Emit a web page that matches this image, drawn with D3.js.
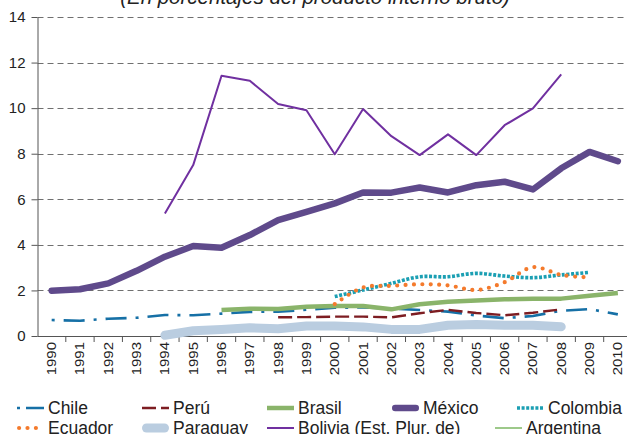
<!DOCTYPE html>
<html><head><meta charset="utf-8">
<script src="https://cdn.jsdelivr.net/npm/d3@7"></script>
<style>
html,body{margin:0;padding:0;background:#fff;}
svg{display:block;font-family:"Liberation Sans",Arial,sans-serif;}
</style></head><body>
<svg id="chart" width="627" height="434"></svg>
<script>
// Categories and tick labels
const years = ["1990","1991","1992","1993","1994","1995","1996","1997","1998","1999","2000",
               "2001","2002","2003","2004","2005","2006","2007","2008","2009","2010"];
const yTicks = [0, 2, 4, 6, 8, 10, 12, 14];

// Series values (% of GDP), one value per year, null where no data
const chile     = [0.70,0.67,0.76,0.80,0.92,0.91,0.98,1.06,1.07,1.15,1.24,1.25,1.21,1.14,1.07,0.90,0.78,0.88,1.11,1.18,0.95];
const peru      = [null,null,null,null,null,null,null,null,0.82,0.83,0.85,0.85,0.82,1.00,1.15,1.01,0.91,1.02,1.17,null,null];
const brasil    = [null,null,null,null,null,null,1.14,1.20,1.19,1.28,1.32,1.32,1.17,1.39,1.50,1.56,1.61,1.64,1.64,1.77,1.89];
const mexico    = [1.99,2.05,2.31,2.86,3.48,3.95,3.87,4.43,5.09,5.45,5.82,6.30,6.29,6.52,6.30,6.62,6.77,6.43,7.36,8.08,7.67];
const colombia  = [null,null,null,null,null,null,null,null,null,null,1.73,2.02,2.31,2.60,2.60,2.75,2.63,2.56,2.68,2.79,null];
const ecuador   = [null,null,null,null,null,null,null,null,null,null,1.40,2.13,2.20,2.27,2.22,2.02,2.36,3.02,2.68,2.57,null];
const paraguay  = [null,null,null,null,0.03,0.23,0.29,0.36,0.32,0.44,0.44,0.40,0.29,0.29,0.47,0.51,0.47,0.47,0.41,null,null];
const bolivia   = [null,null,null,null,5.38,7.50,11.42,11.20,10.18,9.91,7.98,9.96,8.77,7.94,8.85,7.94,9.25,9.99,11.48,null,null];
const argentina = [null,null,null,null,null,null,null,null,null,null,null,null,null,null,null,null,null,null,null,null,null];

const seriesNames = ["Chile","Perú","Brasil","México","Colombia","Ecuador","Paraguay","Bolivia (Est. Plur. de)","Argentina"];
const seriesValues = [chile, peru, brasil, mexico, colombia, ecuador, paraguay, bolivia, argentina];

// Line styles per series
const styles = {
  "Chile":    {color:"#1670a6", width:2.6, dash:"3,9,21,9", cap:"butt"},
  "Perú":     {color:"#7d1d22", width:2.4, dash:"14,5", cap:"butt"},
  "Brasil":   {color:"#8ab46a", width:4.5, dash:null, cap:"butt"},
  "México":   {color:"#5f4a8b", width:6.5, dash:null, cap:"round"},
  "Colombia": {color:"#1b9fb3", width:3.6, dash:"3,1.6", cap:"butt", smooth:true},
  "Ecuador":  {color:"#f47a2c", width:4.2, dash:"0,8.4", cap:"round", smooth:true},
  "Paraguay": {color:"#bacde0", width:9, dash:null, cap:"round"},
  "Bolivia (Est. Plur. de)": {color:"#7030a0", width:2, dash:null, cap:"butt"},
  "Argentina":{color:"#9dc98a", width:2, dash:null, cap:"butt"}
};

const svg = d3.select("#chart");
const x = d3.scaleBand().domain(years).range([37.5, 632]).padding(0);
const y = d3.scaleLinear().domain([0, 14]).range([336, 17]);
const bw = x.bandwidth();
const cx = yr => x(yr) + bw / 2;

// Dashed horizontal gridlines
svg.append("g").selectAll("line").data(yTicks.filter(v => v > 0)).join("line")
  .attr("x1", 37.5).attr("x2", 627)
  .attr("y1", d => Math.round(y(d)) + 0.5).attr("y2", d => Math.round(y(d)) + 0.5)
  .attr("stroke", "#707070").attr("stroke-width", 1).attr("stroke-dasharray", "6,4");

// Y axis
const yAxis = svg.append("g").attr("transform", "translate(37.5,0)")
  .call(d3.axisLeft(y).tickValues(yTicks).tickSize(6).tickSizeOuter(0).tickPadding(6));
yAxis.select(".domain").attr("stroke", "#555");
yAxis.selectAll(".tick line").attr("stroke", "#555");
yAxis.selectAll("text").attr("font-size", 15).attr("fill", "#222")
  .attr("font-family", "'Liberation Sans',Arial,sans-serif");

// X axis line with ticks at category boundaries
const xg = svg.append("g");
xg.append("line").attr("x1", 37.5).attr("x2", 627).attr("y1", 336.5).attr("y2", 336.5)
  .attr("stroke", "#555");
xg.selectAll("line.tk").data(years.slice(1)).join("line").attr("class", "tk")
  .attr("x1", d => x(d)).attr("x2", d => x(d)).attr("y1", 336.5).attr("y2", 342)
  .attr("stroke", "#555");
// Rotated year labels, slightly condensed across the glyph height
xg.selectAll("text").data(years).join("text")
  .attr("transform", d => `translate(${cx(d)},342) rotate(-90) scale(1,0.86)`)
  .attr("text-anchor", "end").attr("dy", "0.35em")
  .attr("font-size", 15).attr("fill", "#222").text(d => d);

// Series lines
const gLines = svg.append("g");
seriesNames.forEach((name, k) => {
  const st = styles[name];
  const vals = seriesValues[k];
  const line = d3.line()
    .defined(d => d != null)
    .x((d, i) => cx(years[i]))
    .y(d => y(d))
    .curve(st.smooth ? d3.curveCatmullRom.alpha(0.5) : d3.curveLinear);
  if (vals.every(v => v == null)) return;
  gLines.append("path").attr("d", line(vals))
    .attr("fill", "none").attr("stroke", st.color).attr("stroke-width", st.width)
    .attr("stroke-dasharray", st.dash).attr("stroke-linecap", st.cap)
    .attr("stroke-linejoin", "round");
});

// Subtitle
svg.append("text").attr("x", 315).attr("y", 4).attr("text-anchor", "middle")
  .attr("font-size", 20.5).attr("font-style", "italic").attr("fill", "#222")
  .text("(En porcentajes del producto interno bruto)");

// Legend: two rows of five / four entries
const legendPos = [[15,408],[140,408],[265,408],[390,408],[515,408],
                   [15,428],[140,428],[265,428],[493,428]];
const lg = svg.append("g");
seriesNames.forEach((name, k) => {
  const st = styles[name];
  const [lx, ly] = legendPos[k];
  const g = lg.append("g");
  let dash = st.dash;
  if (name === "Chile") dash = "3,6,21";
  const capPad = st.cap === "round" ? st.width / 2 : 0;
  g.append("line").attr("x1", lx + 2 + capPad).attr("x2", lx + 29 - capPad).attr("y1", ly).attr("y2", ly)
    .attr("stroke", st.color).attr("stroke-width", st.width)
    .attr("stroke-dasharray", dash).attr("stroke-linecap", st.cap);
  g.append("text").attr("x", lx + 33).attr("y", ly).attr("dy", "0.35em")
    .attr("font-size", 17.5).attr("fill", "#222").text(name);
});
</script>
</body></html>
